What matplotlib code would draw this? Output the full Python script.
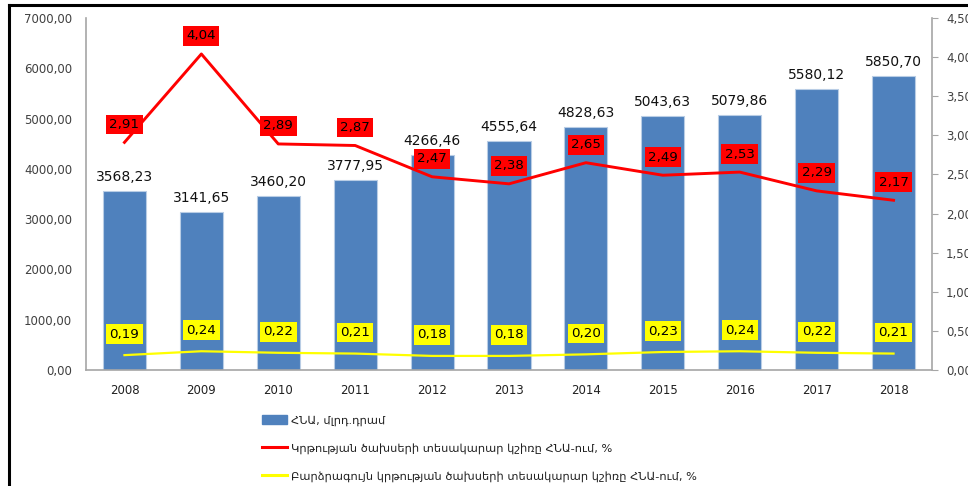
import matplotlib
matplotlib.use("Agg")
import matplotlib.pyplot as plt
from matplotlib.lines import Line2D
from matplotlib.patches import Patch

years = ["2008", "2009", "2010", "2011", "2012", "2013", "2014", "2015", "2016", "2017", "2018"]
gdp = [3568.23, 3141.65, 3460.20, 3777.95, 4266.46, 4555.64, 4828.63, 5043.63, 5079.86, 5580.12, 5850.70]
edu_share = [2.91, 4.04, 2.89, 2.87, 2.47, 2.38, 2.65, 2.49, 2.53, 2.29, 2.17]
higher_share = [0.19, 0.24, 0.22, 0.21, 0.18, 0.18, 0.20, 0.23, 0.24, 0.22, 0.21]
left_ticks = [0, 1000, 2000, 3000, 4000, 5000, 6000, 7000]
right_ticks = [0, 0.5, 1.0, 1.5, 2.0, 2.5, 3.0, 3.5, 4.0, 4.5]
legend_labels = ["ՀՆԱ, մլրդ.դրամ",
                 "Կրթության ծախսերի տեսակարար կշիռը ՀՆԱ-ում, %",
                 "Բարձրագույն կրթության ծախսերի տեսակարար կշիռը ՀՆԱ-ում, %"]

def fmt(v):
    return f"{v:.2f}".replace(".", ",")

BLUE = "#4F81BD"
GREY = "#A6A6A6"
TXT = "#404040"

fig = plt.figure(figsize=(9.68, 4.86), dpi=100)
ax = fig.add_axes([86/968, 1-370/486, (932-86)/968, (370-18)/486])
ax2 = ax.twinx()

x = list(range(len(years)))
ax.bar(x, gdp, width=0.56, color=BLUE, edgecolor="#B9CDE5", linewidth=0.8, zorder=2)
ax.set_xlim(-0.5, len(years)-0.5)
ax.set_ylim(0, 7000)
ax.set_yticks(left_ticks)
ax.set_yticklabels([fmt(v) for v in left_ticks], fontsize=8.5, color=TXT, family="DejaVu Sans")
ax.set_xticks(x)
ax.set_xticklabels(years, fontsize=8.5, color="#202020", family="DejaVu Sans")
ax.tick_params(axis="x", length=0, pad=10)
ax.tick_params(axis="y", length=0, pad=10)
for s in ["top", "right"]:
    ax.spines[s].set_visible(False)
for s in ["left", "bottom"]:
    ax.spines[s].set_color(GREY)
    ax.spines[s].set_linewidth(1.2)

for xi, v in zip(x, gdp):
    ax.annotate(fmt(v), (xi, v), xytext=(0, 14), textcoords="offset pixels",
                ha="center", va="center", fontsize=10, color="#111111", family="DejaVu Sans", zorder=5)

ax2.set_ylim(0, 4.5)
ax2.set_yticks(right_ticks)
ax2.set_yticklabels([fmt(v) for v in right_ticks], fontsize=8.5, color=TXT, family="DejaVu Sans")
ax2.tick_params(axis="y", length=4, color=GREY, pad=6)
for s in ["top", "left", "bottom"]:
    ax2.spines[s].set_visible(False)
ax2.spines["right"].set_color(GREY)
ax2.spines["right"].set_linewidth(1.2)

ax2.plot(x, edu_share, color="#FF0000", linewidth=2.1, zorder=3)
ax2.plot(x, higher_share, color="#FFFF00", linewidth=1.6, zorder=3)

for xi, v in zip(x, edu_share):
    ax2.annotate(fmt(v), (xi, v), xytext=(0, 18), textcoords="offset pixels",
                 ha="center", va="center", fontsize=9.6, color="#000000", family="DejaVu Sans",
                 bbox=dict(boxstyle="square,pad=0.25", fc="#FF0000", ec="none"), zorder=6)
for xi, v in zip(x, higher_share):
    ax2.annotate(fmt(v), (xi, v), xytext=(0, 21), textcoords="offset pixels",
                 ha="center", va="center", fontsize=9.6, color="#000000", family="DejaVu Sans",
                 bbox=dict(boxstyle="square,pad=0.25", fc="#FFFF00", ec="none"), zorder=6)

handles = [Patch(color=BLUE), Line2D([0], [0], color="#FF0000", lw=2.2),
           Line2D([0], [0], color="#FFFF00", lw=2.2)]
leg = fig.legend(handles, legend_labels, loc="upper left", bbox_to_anchor=(252/968, 1-405/486),
                 frameon=False, handlelength=2.2, handleheight=0.8, handletextpad=0.3,
                 labelspacing=1.5, prop={"family": "DejaVu Sans", "size": 8.2})
for t in leg.get_texts():
    t.set_color("#202020")

fig.add_artist(Line2D([9/968, 1], [1-5/486, 1-5/486], color="black", lw=2.2, transform=fig.transFigure))
fig.add_artist(Line2D([9/968, 9/968], [0, 1-5/486], color="black", lw=2.2, transform=fig.transFigure))

fig.savefig("out.png", dpi=100)
